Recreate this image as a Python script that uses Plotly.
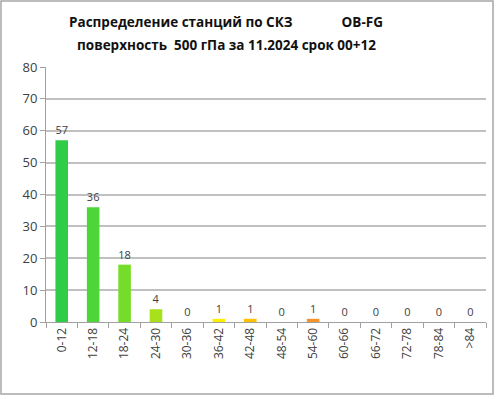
import plotly.graph_objects as go

categories = ["0-12", "12-18", "18-24", "24-30", "30-36", "36-42", "42-48",
              "48-54", "54-60", "60-66", "66-72", "72-78", "78-84", ">84"]
counts = [57, 36, 18, 4, 0, 1, 1, 0, 1, 0, 0, 0, 0, 0]
bar_colors = ["#2ecc47", "#4dd63a", "#76dc2a", "#a8e01c", "#d0e010", "#ffee00", "#ffc000",
              "#ffb000", "#f5942c", "#f07020", "#e85020", "#e03020", "#d02020", "#c01010"]
y_ticks = [0, 10, 20, 30, 40, 50, 60, 70, 80]
title_line1 = "Распределение станций по СКЗ              OB-FG"
title_line2 = "поверхность  500 гПа за 11.2024 срок 00+12"

W, H = 496, 399
ml, mr, mt, mb = 46, 10, 67, 77
pw, ph = W - ml - mr, H - mt - mb

font_family = "Open Sans, Liberation Sans, sans-serif"
label_font = dict(size=11, color="#404040", family=font_family)
title_font = dict(size=13.5, color="#111111", family=font_family)


def py(pix):
    # pixel row -> paper y
    return (mt + ph - pix) / ph


def px(pix):
    return (pix - ml) / pw


fig = go.Figure(go.Bar(
    x=categories, y=counts,
    marker=dict(color=bar_colors, line=dict(width=0)),
    width=0.4,
    text=[str(v) for v in counts],
    textposition="outside",
    textfont=label_font,
    outsidetextfont=label_font,
    insidetextfont=label_font,
    constraintext="none",
    cliponaxis=False,
    hoverinfo="x+y",
))

fig.update_layout(
    width=W, height=H,
    margin=dict(l=ml, r=mr, t=mt, b=mb, pad=0),
    paper_bgcolor="white", plot_bgcolor="white",
    showlegend=False,
    font=dict(family=font_family, color="#404040"),
    annotations=[
        dict(text="<b>" + title_line1 + "</b>", xref="paper", yref="paper",
             x=px(226), y=py(22), xanchor="center", yanchor="middle",
             showarrow=False, font=title_font),
        dict(text="<b>" + title_line2 + "</b>", xref="paper", yref="paper",
             x=px(226), y=py(45), xanchor="center", yanchor="middle",
             showarrow=False, font=title_font),
    ],
    shapes=[
        dict(type="rect", xref="paper", yref="paper",
             x0=px(1), x1=px(W - 3), y0=py(H - 5), y1=py(1),
             line=dict(color="#a6a6a6", width=1.5)),
    ],
)

fig.update_xaxes(
    type="category",
    tickangle=-90,
    tickfont=dict(size=12, color="#404040", family=font_family),
    ticks="outside", ticklen=5, tickcolor="#a0a0a0", tickson="boundaries",
    showline=True, linecolor="#a0a0a0", linewidth=1,
    showgrid=False,
)
fig.update_yaxes(
    range=[0, 80], tickvals=y_ticks,
    tickfont=dict(size=13, color="#404040", family=font_family),
    ticks="outside", ticklen=5, tickcolor="#a0a0a0",
    showline=True, linecolor="#a0a0a0", linewidth=1,
    showgrid=True, gridcolor="#c0c0c0", gridwidth=1.5,
    zeroline=False,
)

fig.write_html("out.html", config={"displayModeBar": False},
               post_script="document.body.style.margin='0';document.body.style.overflow='hidden';")
